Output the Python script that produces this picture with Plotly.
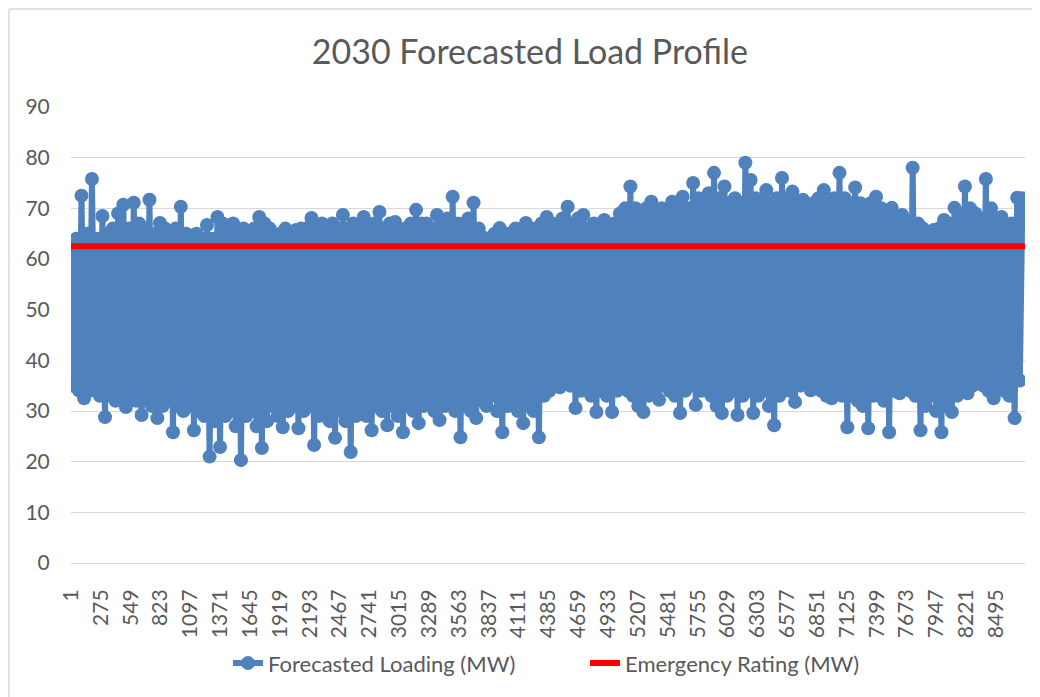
import plotly.graph_objects as go

title_text = "2030 Forecasted Load Profile"
series_names = ["Forecasted Loading (MW)", "Emergency Rating (MW)"]

# Envelope of the hourly load (alternating highs / lows across the year)
load_highs_mw = [
    63, 64, 72.5, 65, 75.8, 64, 68.5, 65, 66, 69,
    70.7, 66, 71.1, 67, 66, 71.7, 65, 67.1, 66, 65,
    66, 70.3, 65, 64, 65, 64, 66.7, 64, 68.3, 67,
    65, 67, 65, 66, 64, 66, 68.3, 67, 66, 64,
    65, 66, 64, 65.7, 66, 66, 68.1, 66, 67, 66,
    67, 66, 68.7, 66, 67, 66, 68.3, 66, 67, 69.3,
    66, 67, 67.3, 65, 66, 67, 69.7, 67, 67, 66,
    68.7, 67, 68, 72.3, 67, 66, 68, 71.1, 66, 64.2,
    64, 65, 66.1, 65, 65, 66, 65, 67.1, 66, 66,
    67, 68.3, 67, 66, 68, 70.3, 67, 68, 68.7, 66,
    67, 66, 67.7, 66, 67, 69, 70, 74.3, 70, 69,
    70, 71.3, 69, 70, 69, 71.3, 70, 72.3, 70, 75.0,
    72, 71, 73, 77.0, 72, 74.3, 71, 72, 71, 79.0,
    75.6, 72, 71, 73.6, 71, 72, 76.0, 72, 73.3, 71,
    71.7, 70, 71, 72, 73.6, 71, 72, 77.0, 72, 71,
    74.1, 71, 70, 71, 72.3, 70, 69, 70.1, 68, 68.7,
    67, 78.0, 67, 66, 65, 65.7, 66, 67.7, 67, 70.1,
    69, 74.3, 70, 69, 68, 75.8, 70, 68, 68.3, 66,
    67, 72.1, 72,
]
load_lows_mw = [
    35, 34.1, 32.5, 34, 35, 33, 28.8, 33, 32, 33,
    30.8, 33, 32, 29.2, 32, 31, 28.6, 31, 32, 25.8,
    31, 30, 31, 26.2, 30, 29, 21, 28, 22.9, 29,
    30, 27, 20.3, 29, 30, 27, 22.7, 28, 31, 29,
    26.8, 30, 31, 26.6, 30, 31, 23.3, 29, 30, 28,
    24.7, 30, 28, 21.9, 29, 31, 29, 26.2, 31, 30,
    27.2, 31, 29, 25.8, 31, 30, 27.6, 31, 32, 30,
    28.2, 31, 32, 30, 24.8, 31, 30, 28.6, 32, 31,
    33, 30, 25.8, 31, 32, 30, 27.6, 31, 30, 24.8,
    33, 34, 35, 34.7, 36, 35, 30.6, 34, 35, 33,
    29.8, 34, 33, 29.8, 34, 35, 34, 33, 31, 29.8,
    33, 34, 32.2, 35, 34, 33, 29.6, 34, 35, 31.2,
    34, 35, 33, 31, 29.6, 33, 34, 29.2, 33, 34,
    29.6, 33, 34, 31, 27.2, 33, 35, 34, 31.8, 35,
    36, 34.1, 35, 34, 33, 32.5, 34, 33, 26.8, 33,
    32, 31, 26.6, 33, 34, 32, 25.8, 34, 33.5, 35,
    34, 33, 26.2, 31, 33, 30, 25.8, 31, 29.8, 33,
    35, 33.5, 35, 36, 35, 34, 32.5, 35, 34, 33,
    28.6, 36,
]
emergency_rating_mw = 62.5
hours_in_year = 8760
x_tick_labels = [1, 275, 549, 823, 1097, 1371, 1645, 1919, 2193, 2467, 2741, 3015,
                 3289, 3563, 3837, 4111, 4385, 4659, 4933, 5207, 5481, 5755, 6029,
                 6303, 6577, 6851, 7125, 7399, 7673, 7947, 8221, 8495]
y_ticks = [0, 10, 20, 30, 40, 50, 60, 70, 80, 90]

# interleave highs and lows into one chronological series
load_mw = []
for k in range(max(len(load_highs_mw), len(load_lows_mw))):
    if k < len(load_highs_mw):
        load_mw.append(load_highs_mw[k])
    if k < len(load_lows_mw):
        load_mw.append(load_lows_mw[k])
load_hours = [1 + 24 * i for i in range(len(load_mw))]

BLUE = "#4F81BD"
RED = "#FF0000"
GRID = "#D9D9D9"
TXT = "#595959"
FONT = "Lato, 'Open Sans', sans-serif"

# the page adds an 8px body margin, so the figure is 8px smaller than the window
W, H = 1032, 689
L, R, T, B = 63, 15, 99, 134

fig = go.Figure()
fig.add_trace(go.Scatter(
    x=load_hours, y=load_mw, name=series_names[0], mode="lines+markers",
    line=dict(color=BLUE, width=6), marker=dict(color=BLUE, size=14),
))
fig.add_trace(go.Scatter(
    x=[1, hours_in_year], y=[emergency_rating_mw, emergency_rating_mw],
    name=series_names[1], mode="lines", line=dict(color=RED, width=6),
))

plot_w = W - L - R
plot_h = H - T - B
border_x = (1 - L) / plot_w
border_y = (T - 1 + plot_h) / plot_h

fig.update_layout(
    width=W, height=H,
    margin=dict(l=L, r=R, t=T, b=B),
    paper_bgcolor="white", plot_bgcolor="white",
    font=dict(family=FONT, color=TXT, size=21),
    title=dict(text=title_text, x=0.481, xref="paper", xanchor="center",
               y=1 - 44 / H, yref="container", yanchor="middle",
               font=dict(family=FONT, size=34, color=TXT)),
    showlegend=True,
    legend=dict(orientation="h", x=(220 - L) / plot_w, xanchor="left", y=-0.22, yanchor="middle",
                entrywidth=312, entrywidthmode="pixels",
                font=dict(family=FONT, size=22, color=TXT), bgcolor="rgba(0,0,0,0)"),
    xaxis=dict(range=[0.5, hours_in_year + 0.5], tickmode="array",
               tickvals=x_tick_labels, ticktext=[str(v) for v in x_tick_labels],
               tickangle=-90, showgrid=False, zeroline=False,
               showline=True, linecolor=GRID, linewidth=1,
               ticks="outside", ticklen=17, tickcolor="rgba(0,0,0,0)",
               tickfont=dict(family=FONT, size=21, color=TXT)),
    yaxis=dict(range=[0, 90], tickmode="array", tickvals=y_ticks,
               showgrid=True, gridcolor=GRID, gridwidth=1, zeroline=False,
               showline=False, ticks="outside", ticklen=16, tickcolor="rgba(0,0,0,0)",
               tickfont=dict(family=FONT, size=21, color=TXT)),
    shapes=[
        dict(type="line", xref="paper", yref="paper", x0=border_x, x1=border_x,
             y0=border_y, y1=-B / plot_h, line=dict(color=GRID, width=1.5)),
        dict(type="line", xref="paper", yref="paper", x0=border_x, x1=(W - L) / plot_w,
             y0=border_y, y1=border_y, line=dict(color=GRID, width=1.5)),
    ],
)

fig.write_html("out.html")
